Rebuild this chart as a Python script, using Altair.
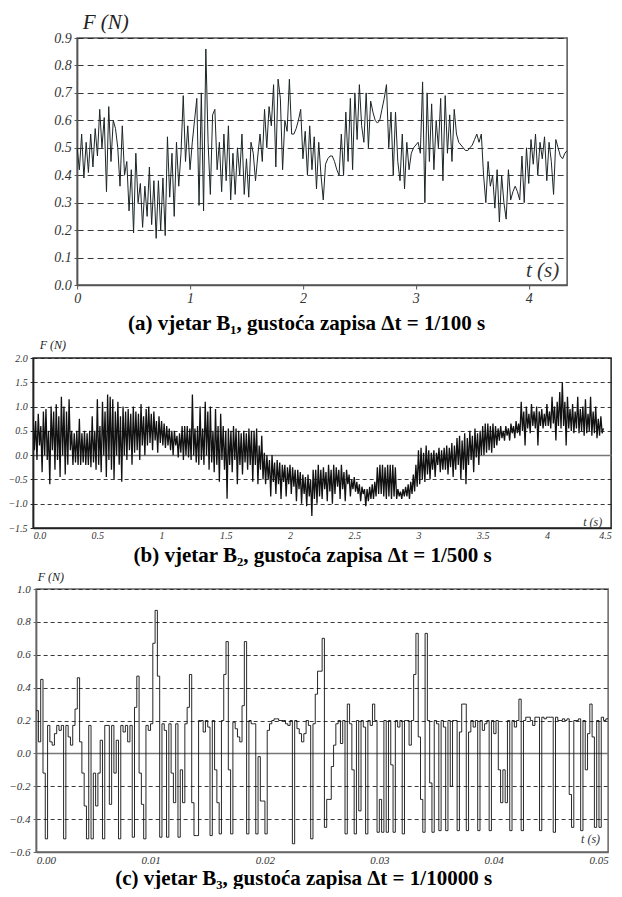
import altair as alt
import pandas as pd

SERIF = "'Liberation Serif', 'Times New Roman', serif"

# ---------------- data ----------------
DT_A = 0.02
force_a = [
    0.50, 0.42, 0.55, 0.39, 0.52, 0.41, 0.55, 0.43, 0.57, 0.47,
    0.64, 0.50, 0.61, 0.34, 0.65, 0.45, 0.60, 0.57, 0.50, 0.36,
    0.58, 0.40, 0.45, 0.27, 0.42, 0.19, 0.48, 0.30, 0.37, 0.21,
    0.36, 0.25, 0.43, 0.22, 0.38, 0.17, 0.38, 0.20, 0.39, 0.18,
    0.54, 0.32, 0.48, 0.25, 0.52, 0.36, 0.48, 0.69, 0.45, 0.58,
    0.42, 0.52, 0.60, 0.68, 0.29, 0.70, 0.27, 0.86, 0.52, 0.33,
    0.62, 0.64, 0.42, 0.52, 0.34, 0.55, 0.38, 0.58, 0.31, 0.48,
    0.33, 0.50, 0.40, 0.55, 0.33, 0.46, 0.32, 0.52, 0.48, 0.38,
    0.47, 0.55, 0.45, 0.64, 0.50, 0.65, 0.58, 0.73, 0.43, 0.75,
    0.68, 0.42, 0.60, 0.56, 0.75, 0.55, 0.55, 0.57, 0.60, 0.64,
    0.46, 0.56, 0.40, 0.58, 0.42, 0.54, 0.35, 0.52, 0.40, 0.31,
    0.44, 0.46, 0.47, 0.47, 0.45, 0.42, 0.40, 0.55, 0.40, 0.63,
    0.45, 0.68, 0.42, 0.70, 0.53, 0.73, 0.58, 0.52, 0.70, 0.50,
    0.67, 0.63, 0.60, 0.59, 0.60, 0.64, 0.68, 0.73, 0.50, 0.63,
    0.40, 0.63, 0.45, 0.38, 0.55, 0.35, 0.52, 0.42, 0.48, 0.50,
    0.51, 0.52, 0.48, 0.74, 0.30, 0.70, 0.45, 0.66, 0.42, 0.60,
    0.50, 0.68, 0.38, 0.69, 0.48, 0.62, 0.45, 0.64, 0.55, 0.52,
    0.51, 0.50, 0.49, 0.49, 0.50, 0.51, 0.53, 0.55, 0.52, 0.55,
    0.40, 0.30, 0.45, 0.36, 0.40, 0.28, 0.42, 0.23, 0.40, 0.30,
    0.24, 0.42, 0.31, 0.34, 0.36, 0.34, 0.31, 0.47, 0.30, 0.50,
    0.37, 0.53, 0.44, 0.55, 0.40, 0.52, 0.46, 0.54, 0.38, 0.52,
    0.45, 0.33, 0.53, 0.50, 0.47, 0.46, 0.48, 0.49,
]

DT_B = 0.01
force_b = [
    0.8, 0.1, 0.7, -0.1, 0.85, 0.2, 0.6, -0.35, 0.9, 0.0,
    0.95, -0.1, 0.5, -0.6, 1.0, 0.1, 0.9, -0.3, 1.05, -0.1,
    0.8, -0.45, 1.2, 0.0, 1.0, -0.4, 0.9, -0.2, 1.15, 0.1,
    0.5, -0.2, 0.45, -0.15, 0.5, -0.2, 0.75, -0.2, 0.45, -0.15,
    0.5, -0.2, 0.45, -0.2, 0.5, -0.25, 0.8, -0.15, 0.5, -0.3,
    1.15, -0.2, 0.6, -0.35, 1.1, 0.0, 0.9, -0.45, 1.25, -0.1,
    1.2, -0.3, 1.15, -0.5, 0.9, 0.0, 1.1, -0.2, 0.8, -0.55,
    1.0, 0.0, 0.9, -0.1, 0.95, 0.1, 0.85, -0.2, 1.0, 0.05,
    0.9, 0.1, 0.85, -0.1, 1.05, 0.2, 0.8, 0.0, 0.95, 0.2,
    1.0, 0.25, 0.85, 0.1, 0.9, 0.3, 0.7, 0.05, 0.8, 0.25,
    0.7, 0.2, 0.65, 0.15, 0.6, 0.2, 0.55, 0.1, 0.5, 0.0,
    0.5, 0.2, 0.4, -0.05, 0.45, 0.05, 0.6, -0.1, 0.6, 0.0,
    0.6, -0.05, 0.55, -0.1, 1.25, 0.0, 0.55, -0.15, 0.6, -0.2,
    1.0, -0.1, 0.55, -0.2, 1.1, 0.0, 0.9, -0.3, 1.0, -0.15,
    0.5, -0.35, 0.95, -0.2, 0.6, -0.55, 0.85, -0.1, 0.6, -0.3,
    0.5, -0.9, 0.55, -0.2, 0.5, -0.35, 0.6, -0.1, 0.55, -0.6,
    0.5, -0.2, 0.45, -0.4, 0.5, -0.15, 0.45, -0.3, 0.55, -0.2,
    0.5, -0.55, 0.5, -0.2, 0.55, -0.6, 0.2, -0.3, 0.4, -0.5,
    0.05, -0.6, 0.0, -0.5, -0.1, -0.85, 0.0, -0.55, -0.15, -0.8,
    -0.1, -0.6, -0.15, -0.9, -0.2, -0.55, -0.2, -0.85, -0.25, -0.6,
    -0.2, -0.8, -0.25, -0.65, -0.3, -0.95, -0.3, -0.7, -0.35, -1.0,
    -0.4, -0.8, -0.45, -1.05, -0.4, -0.85, -0.5, -1.25, -0.3, -0.9,
    -0.3, -1.0, -0.2, -0.85, -0.3, -0.9, -0.25, -0.7, -0.35, -0.95,
    -0.2, -0.75, -0.3, -1.0, -0.2, -0.8, -0.25, -0.65, -0.3, -0.9,
    -0.2, -0.7, -0.35, -0.95, -0.3, -0.6, -0.4, -0.85, -0.5, -0.7,
    -0.45, -0.75, -0.55, -0.8, -0.6, -0.95, -0.65, -0.8, -0.7, -1.05,
    -0.7, -0.95, -0.65, -0.9, -0.6, -0.9, -0.55, -0.85, -0.25, -0.8,
    -0.2, -0.8, -0.2, -0.85, -0.25, -0.9, -0.2, -0.85, -0.2, -0.9,
    -0.2, -0.85, -0.25, -0.9, -0.7, -0.85, -0.75, -0.9, -0.7, -0.85,
    -0.65, -0.85, -0.6, -0.9, -0.55, -0.8, -0.4, -0.75, -0.2, -0.65,
    0.1, -0.6, 0.15, -0.5, 0.05, -0.55, 0.2, -0.4, 0.1, -0.5,
    0.05, -0.3, 0.1, -0.45, 0.05, -0.2, 0.15, -0.35, 0.1, -0.3,
    0.15, -0.3, 0.2, -0.4, 0.15, -0.25, 0.25, -0.45, 0.2, -0.3,
    0.35, -0.2, 0.4, -0.5, 0.3, -0.3, 0.45, -0.6, 0.35, -0.2,
    0.5, -0.1, 0.4, -0.35, 0.55, -0.05, 0.45, -0.2, 0.5, 0.0,
    0.6, 0.0, 0.65, 0.05, 0.65, 0.1, 0.6, 0.05, 0.65, 0.15,
    0.6, 0.2, 0.55, 0.3, 0.6, 0.35, 0.5, 0.3, 0.6, 0.4,
    0.55, 0.3, 0.65, 0.45, 0.6, 0.35, 0.7, 0.45, 0.65, 0.4,
    1.1, 0.5, 0.9, 0.2, 1.0, 0.55, 0.85, 0.45, 1.05, 0.6,
    0.9, 0.55, 1.0, 0.2, 0.9, 0.6, 0.95, 0.55, 0.85, 0.6,
    1.05, 0.6, 0.9, 0.55, 1.2, 0.65, 1.0, 0.3, 1.1, 0.6,
    1.3, 0.55, 1.5, 0.6, 1.1, 0.2, 1.2, 0.55, 0.95, 0.5,
    1.05, 0.45, 0.9, 0.55, 1.2, 0.45, 0.95, 0.5, 1.0, 0.4,
    1.15, 0.45, 0.85, 0.5, 1.2, 0.4, 0.9, 0.45, 1.0, 0.35,
    0.75, 0.4, 0.8, 0.45, 0.55,
]

DT_C = 0.0002
force_c = [
    0.26, 0.07, 0.45, -0.12, -0.52,
    0.17, 0.07, 0.05, 0.12, 0.17,
    0.14, 0.17, -0.52, 0.17, 0.10,
    0.05, 0.17, 0.27, 0.46, 0.07,
    -0.12, -0.32, -0.52, 0.17, -0.52,
    -0.12, -0.32, -0.12, 0.08, -0.52,
    0.17, 0.17, -0.31, 0.17, -0.12,
    0.08, -0.52, 0.17, 0.13, 0.17,
    0.07, 0.17, -0.51, 0.28, 0.47,
    -0.12, -0.31, -0.52, 0.17, 0.14,
    0.18, 0.67, 0.87, 0.47, -0.51,
    0.18, 0.14, -0.51, 0.18, -0.12,
    -0.30, 0.18, -0.51, -0.10, -0.30,
    0.18, 0.28, 0.48, -0.30, -0.50,
    -0.50, 0.20, 0.20, 0.13, 0.20,
    0.16, -0.50, 0.20, -0.10, -0.30,
    -0.49, 0.20, 0.48, 0.68, -0.10,
    -0.49, 0.19, 0.15, 0.10, 0.07,
    0.29, 0.68, -0.49, 0.20, 0.18,
    0.18, -0.49, -0.02, -0.29, -0.29,
    -0.49, 0.14, 0.18, 0.20, 0.21,
    0.21, 0.20, 0.20, 0.20, 0.18,
    0.17, 0.20, -0.55, 0.20, 0.15,
    0.12, 0.07, 0.12, 0.20, 0.17,
    -0.52, 0.18, 0.36, 0.50, 0.50,
    0.70, -0.45, -0.28, -0.28, -0.08,
    0.05, 0.18, 0.20, 0.06, 0.20,
    -0.49, 0.30, 0.18, -0.10, -0.49,
    0.20, -0.35, 0.20, 0.16, -0.49,
    0.20, 0.17, 0.30, 0.20, -0.48,
    -0.28, -0.48, 0.20, -0.48, 0.20,
    -0.07, -0.48, 0.20, 0.16, 0.20,
    -0.49, 0.20, 0.20, 0.05, 0.20,
    0.48, 0.73, 0.10, -0.28, -0.48,
    0.73, 0.20, -0.18, -0.48, 0.20,
    0.18, -0.47, 0.20, 0.16, -0.47,
    0.20, -0.20, 0.20, 0.20, -0.47,
    0.13, 0.30, 0.30, -0.47, 0.13,
    0.20, 0.16, 0.20, -0.47, 0.20,
    0.14, 0.18, 0.20, -0.47, 0.20,
    0.12, 0.20, -0.10, -0.30, -0.10,
    -0.30, 0.20, -0.47, 0.20, 0.16,
    0.20, 0.33, -0.47, 0.20, 0.22,
    0.22, 0.20, 0.17, 0.22, 0.22,
    -0.47, 0.22, 0.21, 0.22, 0.22,
    0.22, -0.48, 0.22, 0.20, 0.20,
    0.21, 0.20, 0.21, -0.25, -0.45,
    0.20, 0.20, 0.21, -0.47, 0.20,
    -0.10, 0.12, 0.30, 0.10, -0.45,
    0.20, -0.45, 0.22, 0.20, 0.21,
    0.21,
]

xticks_a = [0, 1, 2, 3, 4]
yticks_a = [0.0, 0.1, 0.2, 0.3, 0.4, 0.5, 0.6, 0.7, 0.8, 0.9]
xticks_b = [0, 0.5, 1, 1.5, 2, 2.5, 3, 3.5, 4, 4.5]
yticks_b = [-1.5, -1.0, -0.5, 0.0, 0.5, 1.0, 1.5, 2.0]
xticks_c = [0, 0.01, 0.02, 0.03, 0.04, 0.05]
yticks_c = [-0.6, -0.4, -0.2, 0.0, 0.2, 0.4, 0.6, 0.8, 1.0]

cap_a = "(a) vjetar B\u2081, gusto\u0107a zapisa \u0394t = 1/100 s"
cap_b = "(b) vjetar B\u2082, gusto\u0107a zapisa \u0394t = 1/500 s"
cap_c = "(c) vjetar B\u2083, gusto\u0107a zapisa \u0394t = 1/10000 s"
y_title = "F (N)"
x_title = "t (s)"


def series(values, dt):
    return pd.DataFrame({"t": [round(i * dt, 6) for i in range(len(values))],
                         "F": values})


def panel(df, xdom, ydom, xticks, yticks, x_label_expr, y_fmt, zero_solid,
          caption, cap_x, cap_pad, w, h, lab_size, ytitle_size, ytitle_x,
          ytitle_y, tpos, tsize, frame, dash, line_color, line_w,
          interp="linear", xtick_size=0, flush=False):
    xs = alt.Scale(domain=xdom, nice=False, zero=False)
    ys = alt.Scale(domain=ydom, nice=False, zero=False)
    if zero_solid:
        gdash = alt.condition("datum.value == 0", alt.value([]), alt.value(dash))
        gcol = alt.condition("datum.value == 0", alt.value("#777"), alt.value("#222"))
        gwid = alt.condition("datum.value == 0", alt.value(1.4), alt.value(0.9))
    else:
        gdash = dash
        gcol = "#222"
        gwid = 0.9
    line = alt.Chart(df).mark_line(
        color=line_color, strokeWidth=line_w, interpolate=interp, clip=True
    ).encode(
        x=alt.X("t:Q", scale=xs, axis=alt.Axis(
            values=xticks, tickCount=len(xticks) + 2,
            labelExpr=x_label_expr, grid=False,
            ticks=xtick_size > 0, tickSize=max(xtick_size, 1),
            tickColor=frame,
            labelFont=SERIF, labelFontStyle="italic",
            labelFontSize=lab_size, labelColor="#333", labelPadding=2,
            labelFlush=flush, labelOverlap=False,
            domainColor=frame, domainWidth=1.5,
            title=caption, titleFont=SERIF, titleFontWeight="bold",
            titleFontSize=21, titleColor="#000", titleX=cap_x,
            titleAlign="center", titleBaseline="top",
            titlePadding=cap_pad)),
        y=alt.Y("F:Q", scale=ys, axis=alt.Axis(
            values=yticks, tickCount=len(yticks) + 2, format=y_fmt,
            grid=True, gridDash=gdash,
            gridColor=gcol, gridWidth=gwid, tickSize=3,
            tickColor=frame, labelFont=SERIF, labelFontStyle="italic",
            labelFontSize=lab_size, labelColor="#333", labelPadding=3,
            labelFlush=False, labelOverlap=False,
            domainColor=frame, domainWidth=1.5,
            title=y_title, titleAngle=0, titleAlign="left",
            titleBaseline="middle", titleX=ytitle_x, titleY=ytitle_y,
            titleFont=SERIF, titleFontStyle="italic",
            titleFontWeight="normal", titleFontSize=ytitle_size,
            titleColor="#222")),
    )
    label = alt.Chart(pd.DataFrame({"s": [x_title]})).mark_text(
        font=SERIF, fontStyle="italic", fontSize=tsize,
        align="right", baseline="middle", color="#333"
    ).encode(x=alt.datum(tpos[0]), y=alt.datum(tpos[1]), text="s:N")
    return alt.layer(line, label).properties(
        width=w, height=h,
        view=alt.ViewBackground(stroke=frame, strokeWidth=1.5))


chart_a = panel(series(force_a, DT_A), [0, 4.34], [0, 0.9], xticks_a,
                yticks_a, "format(datum.value, 'd')", ".1f", False,
                cap_a, 229, 7, 490, 247, 14, 21, 5, -16, (4.27, 0.05), 21,
                "#555", [6, 4], "#1c2626", 1.0, xtick_size=4)

chart_b = panel(series(force_b, DT_B), [0, 4.5], [-1.5, 2.0], xticks_b,
                yticks_b,
                "datum.value == 0 ? '0.0' : (datum.value % 1 == 0 ? "
                "format(datum.value, 'd') : format(datum.value, '.1f'))",
                ".1f", True, cap_b, 279, 4, 578, 170, 10, 12, 6, -14,
                (4.43, -1.38), 12, "#222", [4, 3], "#111", 1.3, flush=True)

chart_c = panel(series(force_c, DT_C), [0, 0.05], [-0.6, 1.0], xticks_c,
                yticks_c, "format(datum.value, '.2f')", ".1f", True,
                cap_c, 267, 2, 572, 263, 11, 12, 1, -13, (0.0493, -0.52), 12,
                "#666", [4, 3], "#111", 0.9, interp="step-after", flush=True)

chart = alt.vconcat(chart_a, chart_b, chart_c, spacing=3, center=True).properties(
    padding={"left": -1, "right": 0, "top": 2, "bottom": 0},
    background="white",
)

chart.save("out.html", embed_options={"renderer": "svg", "actions": False})
